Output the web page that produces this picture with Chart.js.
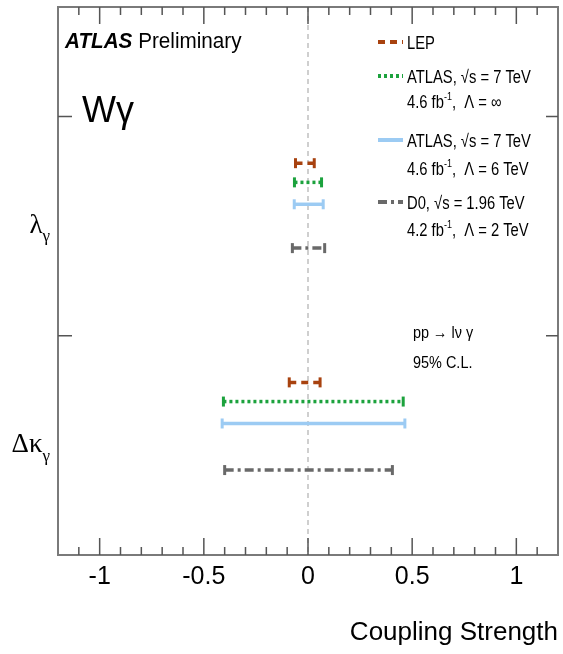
<!DOCTYPE html>
<html lang="en">
<head>
<meta charset="UTF-8">
<title>W gamma coupling limits</title>
<script src="https://cdn.jsdelivr.net/npm/chart.js"></script>
<style>
  html, body { margin: 0; padding: 0; background: #fff; }
</style>
</head>
<body>
<canvas id="myChart" width="563" height="654"></canvas>
<script>
// 데이터 (95% C.L. 구간)
const seriesNames = ['LEP', 'ATLAS 7 TeV, Λ = ∞', 'ATLAS 7 TeV, Λ = 6 TeV', 'D0 1.96 TeV, Λ = 2 TeV'];
const lambdaLow  = [-0.060, -0.065, -0.066, -0.075];
const lambdaHigh = [ 0.030,  0.065,  0.073,  0.080];
const dkappaLow  = [-0.090, -0.406, -0.412, -0.400];
const dkappaHigh = [ 0.058,  0.457,  0.465,  0.405];
const lambdaRow  = [7.15, 6.8, 6.4, 5.6];
const dkappaRow  = [3.15, 2.8, 2.4, 1.55];
const paramNames = ['λ', 'Δκ'];
const paramRows  = [6, 2];
const yMajorTicks = [4, 8];
const xLabelTicks = [-1, -0.5, 0, 0.5, 1];

const colors = ['#a8420f', '#1ca23d', '#9ccbf3', '#696969'];
const dashes = [[7, 5], [3, 3], [], [9, 4, 3, 4]];
const SANS = '"Liberation Sans", Arial, sans-serif';
const SERIF = '"Liberation Serif", "DejaVu Serif", serif';

// 데이터셋 만들기
const datasets = [];
seriesNames.forEach((name, i) => {
  [[lambdaLow, lambdaHigh, lambdaRow], [dkappaLow, dkappaHigh, dkappaRow]].forEach(([lo, hi, row]) => {
    datasets.push({
      label: name,
      data: [{x: lo[i], y: row[i]}, {x: hi[i], y: row[i]}],
      showLine: true,
      borderColor: colors[i],
      borderWidth: 3.5,
      borderDash: dashes[i],
      pointStyle: 'line',
      rotation: 90,
      pointRadius: 5,
      pointBorderWidth: 3,
      pointBorderColor: colors[i],
      pointHoverRadius: 5
    });
  });
});

// 텍스트 + 위첨자/아래첨자 (sx = 가로 압축)
function drawParts(ctx, parts, x, y, size, align, sx) {
  sx = sx || 1;
  ctx.textBaseline = 'alphabetic';
  ctx.textAlign = 'left';
  const fontOf = p => (p.font || '') + ' ' + Math.round(p.small ? size * 0.62 : size) + 'px ' + (p.family || SANS);
  let w = 0;
  parts.forEach(p => {
    ctx.font = fontOf(p);
    p.w = ctx.measureText(p.t).width * sx;
    w += p.w;
  });
  let cx = align === 'right' ? x - w : x;
  parts.forEach(p => {
    ctx.font = fontOf(p);
    let dy = 0;
    if (p.small === 'sup') dy = -size * 0.42;
    if (p.small === 'sub') dy = size * 0.3;
    ctx.save();
    ctx.translate(cx, y + dy);
    ctx.scale(sx, 1);
    ctx.fillText(p.t, 0, 0);
    ctx.restore();
    cx += p.w;
  });
}

const decor = {
  id: 'decor',
  beforeDatasetsDraw(chart) {
    const {ctx, chartArea: a, scales: {x}} = chart;
    ctx.save();
    ctx.strokeStyle = '#cfcfcf';
    ctx.lineWidth = 2;
    ctx.setLineDash([5, 4]);
    const x0 = x.getPixelForValue(0);
    ctx.beginPath();
    ctx.moveTo(x0, a.top);
    ctx.lineTo(x0, a.bottom);
    ctx.stroke();
    ctx.restore();
  },
  afterDraw(chart) {
    const {ctx, chartArea: a, scales: {x, y}} = chart;
    ctx.save();
    // 프레임
    ctx.strokeStyle = '#7a7a7a';
    ctx.lineWidth = 2;
    ctx.strokeRect(a.left, a.top, a.right - a.left, a.bottom - a.top);

    // 안쪽 눈금
    ctx.strokeStyle = '#555';
    ctx.lineWidth = 1.5;
    ctx.beginPath();
    x.ticks.forEach(t => {
      const k = Math.round(t.value * 10);
      if (Math.abs(k) >= 12) return;
      const px = x.getPixelForValue(t.value);
      const len = k % 5 === 0 ? 17 : 8;
      ctx.moveTo(px, a.bottom); ctx.lineTo(px, a.bottom - len);
      ctx.moveTo(px, a.top); ctx.lineTo(px, a.top + len);
    });
    yMajorTicks.forEach(v => {
      const py = y.getPixelForValue(v);
      ctx.moveTo(a.left, py); ctx.lineTo(a.left + 14, py);
      ctx.moveTo(a.right, py); ctx.lineTo(a.right - 12, py);
    });
    ctx.stroke();

    ctx.fillStyle = '#000';
    // y축 라벨 (λγ, Δκγ)
    paramNames.forEach((n, i) => {
      drawParts(ctx, [{t: n, family: SERIF}, {t: 'γ', family: SERIF, small: 'sub'}],
        50, y.getPixelForValue(paramRows[i]) + 7, 27, 'right');
    });

    // ATLAS Preliminary
    drawParts(ctx, [{t: 'ATLAS', font: 'italic bold'}, {t: ' Preliminary'}], 65, 48, 22, 'left', 0.94);
    // Wγ
    drawParts(ctx, [{t: 'Wγ'}], 82, 122, 36);

    // 범례
    const lx = 378, lx2 = 403, tx = 407;
    const rows = [42, 76, 140, 202];
    const texts = [
      [[{t: 'LEP'}]],
      [[{t: 'ATLAS, √s = 7 TeV'}], [{t: '4.6 fb'}, {t: '-1', small: 'sup'}, {t: ',  Λ = ∞'}]],
      [[{t: 'ATLAS, √s = 7 TeV'}], [{t: '4.6 fb'}, {t: '-1', small: 'sup'}, {t: ',  Λ = 6 TeV'}]],
      [[{t: 'D0, √s = 1.96 TeV'}], [{t: '4.2 fb'}, {t: '-1', small: 'sup'}, {t: ',  Λ = 2 TeV'}]]
    ];
    const lineGaps = [0, 25, 28, 27];
    rows.forEach((ry, i) => {
      ctx.strokeStyle = colors[i];
      ctx.lineWidth = 4;
      ctx.setLineDash(dashes[i]);
      ctx.beginPath();
      ctx.moveTo(lx, ry); ctx.lineTo(lx2, ry);
      ctx.stroke();
      ctx.setLineDash([]);
      texts[i].forEach((line, j) => {
        drawParts(ctx, line, tx, ry + 7, 18, 'left', 0.82);
        ry += lineGaps[i];
      });
    });

    drawParts(ctx, [{t: 'pp → lν γ'}], 413, 338, 17, 'left', 0.85);
    drawParts(ctx, [{t: '95% C.L.'}], 413, 368, 17, 'left', 0.85);
    ctx.restore();
  }
};

const myChart = new Chart(document.getElementById('myChart'), {
  type: 'scatter',
  data: { datasets: datasets },
  options: {
    responsive: false,
    animation: false,
    devicePixelRatio: 1,
    layout: { autoPadding: false, padding: { left: 58, right: 5, top: 7, bottom: 0 } },
    plugins: { legend: { display: false }, tooltip: { enabled: false } },
    scales: {
      x: {
        type: 'linear',
        min: -1.2,
        max: 1.2,
        afterFit: s => { s.height = 99; s.paddingLeft = 0; s.paddingRight = 0; },
        grid: { display: false, drawTicks: false },
        border: { display: false },
        ticks: {
          stepSize: 0.1,
          autoSkip: false,
          maxRotation: 0,
          padding: 7,
          color: '#000',
          font: { family: SANS, size: 25 },
          callback: v => {
            const hit = xLabelTicks.find(t => Math.abs(t - v) < 1e-6);
            return hit === undefined ? '' : String(hit);
          }
        },
        title: {
          display: true,
          text: 'Coupling Strength',
          align: 'end',
          color: '#000',
          font: { family: SANS, size: 26 },
          padding: { top: 0, bottom: 6 }
        }
      },
      y: {
        display: false,
        min: 0,
        max: 10
      }
    }
  },
  plugins: [decor]
});
</script>
</body>
</html>
